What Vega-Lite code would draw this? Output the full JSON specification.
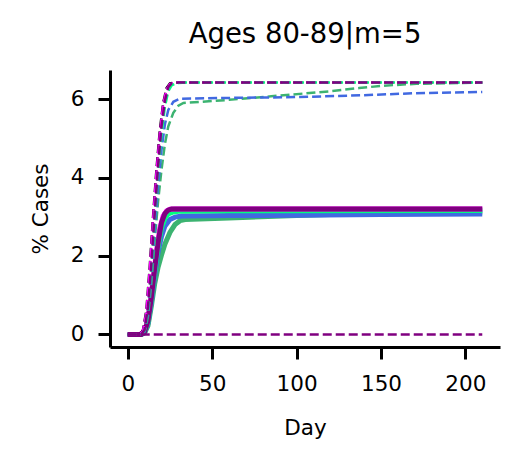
{
  "$schema": "https://vega.github.io/schema/vega-lite/v6.json",
  "autosize": "none",
  "width": 390,
  "height": 277,
  "padding": {"left": 110, "top": 70, "right": 31, "bottom": 125},
  "background": "white",
  "title": {
    "text": "Ages 80-89|m=5",
    "font": "DejaVu Sans",
    "fontSize": 27.5,
    "fontWeight": "normal",
    "color": "black",
    "anchor": "middle",
    "baseline": "alphabetic",
    "offset": 0
  },
  "data": {
    "values": [
      {"g": "g5", "kind": "solid", "day": 0, "v": 0},
      {"g": "g5", "kind": "solid", "day": 8, "v": 0},
      {"g": "g5", "kind": "solid", "day": 10, "v": 0.04},
      {"g": "g5", "kind": "solid", "day": 12, "v": 0.22},
      {"g": "g5", "kind": "solid", "day": 14, "v": 0.72},
      {"g": "g5", "kind": "solid", "day": 16, "v": 1.3},
      {"g": "g5", "kind": "solid", "day": 18, "v": 1.72},
      {"g": "g5", "kind": "solid", "day": 20, "v": 2.02},
      {"g": "g5", "kind": "solid", "day": 22, "v": 2.3},
      {"g": "g5", "kind": "solid", "day": 25, "v": 2.6},
      {"g": "g5", "kind": "solid", "day": 28, "v": 2.8},
      {"g": "g5", "kind": "solid", "day": 31, "v": 2.9},
      {"g": "g5", "kind": "solid", "day": 34, "v": 2.93},
      {"g": "g5", "kind": "solid", "day": 60, "v": 2.97},
      {"g": "g5", "kind": "solid", "day": 100, "v": 3.03},
      {"g": "g5", "kind": "solid", "day": 130, "v": 3.07},
      {"g": "g5", "kind": "solid", "day": 160, "v": 3.1},
      {"g": "g5", "kind": "solid", "day": 210, "v": 3.12},

      {"g": "g4", "kind": "solid", "day": 0, "v": 0},
      {"g": "g4", "kind": "solid", "day": 8, "v": 0},
      {"g": "g4", "kind": "solid", "day": 10, "v": 0.05},
      {"g": "g4", "kind": "solid", "day": 12, "v": 0.28},
      {"g": "g4", "kind": "solid", "day": 14, "v": 0.82},
      {"g": "g4", "kind": "solid", "day": 16, "v": 1.5},
      {"g": "g4", "kind": "solid", "day": 18, "v": 2.1},
      {"g": "g4", "kind": "solid", "day": 20, "v": 2.5},
      {"g": "g4", "kind": "solid", "day": 22, "v": 2.76},
      {"g": "g4", "kind": "solid", "day": 25, "v": 2.93},
      {"g": "g4", "kind": "solid", "day": 28, "v": 2.99},
      {"g": "g4", "kind": "solid", "day": 32, "v": 3.02},
      {"g": "g4", "kind": "solid", "day": 60, "v": 3.03},
      {"g": "g4", "kind": "solid", "day": 100, "v": 3.04},
      {"g": "g4", "kind": "solid", "day": 150, "v": 3.055},
      {"g": "g4", "kind": "solid", "day": 210, "v": 3.07},

      {"g": "g3", "kind": "solid", "day": 0, "v": 0},
      {"g": "g3", "kind": "solid", "day": 8, "v": 0},
      {"g": "g3", "kind": "solid", "day": 10, "v": 0.06},
      {"g": "g3", "kind": "solid", "day": 12, "v": 0.32},
      {"g": "g3", "kind": "solid", "day": 14, "v": 0.9},
      {"g": "g3", "kind": "solid", "day": 16, "v": 1.6},
      {"g": "g3", "kind": "solid", "day": 18, "v": 2.25},
      {"g": "g3", "kind": "solid", "day": 20, "v": 2.72},
      {"g": "g3", "kind": "solid", "day": 22, "v": 2.96},
      {"g": "g3", "kind": "solid", "day": 24, "v": 3.07},
      {"g": "g3", "kind": "solid", "day": 27, "v": 3.12},
      {"g": "g3", "kind": "solid", "day": 30, "v": 3.14},
      {"g": "g3", "kind": "solid", "day": 60, "v": 3.15},
      {"g": "g3", "kind": "solid", "day": 210, "v": 3.16},

      {"g": "g2", "kind": "solid", "day": 0, "v": 0},
      {"g": "g2", "kind": "solid", "day": 7, "v": 0},
      {"g": "g2", "kind": "solid", "day": 9, "v": 0.04},
      {"g": "g2", "kind": "solid", "day": 11, "v": 0.22},
      {"g": "g2", "kind": "solid", "day": 13, "v": 0.7},
      {"g": "g2", "kind": "solid", "day": 15, "v": 1.4},
      {"g": "g2", "kind": "solid", "day": 17, "v": 2.1},
      {"g": "g2", "kind": "solid", "day": 19, "v": 2.7},
      {"g": "g2", "kind": "solid", "day": 21, "v": 3.02},
      {"g": "g2", "kind": "solid", "day": 23, "v": 3.15},
      {"g": "g2", "kind": "solid", "day": 25, "v": 3.19},
      {"g": "g2", "kind": "solid", "day": 28, "v": 3.2},
      {"g": "g2", "kind": "solid", "day": 210, "v": 3.2},

      {"g": "g1", "kind": "solid", "day": 0, "v": 0},
      {"g": "g1", "kind": "solid", "day": 8, "v": 0},
      {"g": "g1", "kind": "solid", "day": 10, "v": 0.07},
      {"g": "g1", "kind": "solid", "day": 12, "v": 0.35},
      {"g": "g1", "kind": "solid", "day": 14, "v": 0.95},
      {"g": "g1", "kind": "solid", "day": 16, "v": 1.7},
      {"g": "g1", "kind": "solid", "day": 18, "v": 2.35},
      {"g": "g1", "kind": "solid", "day": 20, "v": 2.85},
      {"g": "g1", "kind": "solid", "day": 22, "v": 3.08},
      {"g": "g1", "kind": "solid", "day": 24, "v": 3.17},
      {"g": "g1", "kind": "solid", "day": 26, "v": 3.2},
      {"g": "g1", "kind": "solid", "day": 210, "v": 3.2},

      {"g": "g5", "kind": "dashed", "day": 0, "v": 0},
      {"g": "g5", "kind": "dashed", "day": 8, "v": 0},
      {"g": "g5", "kind": "dashed", "day": 10, "v": 0.07},
      {"g": "g5", "kind": "dashed", "day": 12, "v": 0.45},
      {"g": "g5", "kind": "dashed", "day": 14, "v": 1.3},
      {"g": "g5", "kind": "dashed", "day": 16, "v": 2.4},
      {"g": "g5", "kind": "dashed", "day": 18, "v": 3.4},
      {"g": "g5", "kind": "dashed", "day": 20, "v": 4.2},
      {"g": "g5", "kind": "dashed", "day": 22, "v": 4.85},
      {"g": "g5", "kind": "dashed", "day": 24, "v": 5.3},
      {"g": "g5", "kind": "dashed", "day": 27, "v": 5.65},
      {"g": "g5", "kind": "dashed", "day": 30, "v": 5.83},
      {"g": "g5", "kind": "dashed", "day": 33, "v": 5.9},
      {"g": "g5", "kind": "dashed", "day": 60, "v": 5.98},
      {"g": "g5", "kind": "dashed", "day": 85, "v": 6.07},
      {"g": "g5", "kind": "dashed", "day": 120, "v": 6.2},
      {"g": "g5", "kind": "dashed", "day": 137, "v": 6.28},
      {"g": "g5", "kind": "dashed", "day": 151, "v": 6.34},
      {"g": "g5", "kind": "dashed", "day": 171, "v": 6.39},
      {"g": "g5", "kind": "dashed", "day": 210, "v": 6.42},

      {"g": "g4", "kind": "dashed", "day": 0, "v": 0},
      {"g": "g4", "kind": "dashed", "day": 8, "v": 0},
      {"g": "g4", "kind": "dashed", "day": 10, "v": 0.08},
      {"g": "g4", "kind": "dashed", "day": 12, "v": 0.55},
      {"g": "g4", "kind": "dashed", "day": 14, "v": 1.5},
      {"g": "g4", "kind": "dashed", "day": 16, "v": 2.7},
      {"g": "g4", "kind": "dashed", "day": 18, "v": 3.8},
      {"g": "g4", "kind": "dashed", "day": 20, "v": 4.7},
      {"g": "g4", "kind": "dashed", "day": 22, "v": 5.35},
      {"g": "g4", "kind": "dashed", "day": 24, "v": 5.72},
      {"g": "g4", "kind": "dashed", "day": 27, "v": 5.93},
      {"g": "g4", "kind": "dashed", "day": 31, "v": 6.01},
      {"g": "g4", "kind": "dashed", "day": 60, "v": 6.03},
      {"g": "g4", "kind": "dashed", "day": 100, "v": 6.05},
      {"g": "g4", "kind": "dashed", "day": 140, "v": 6.1},
      {"g": "g4", "kind": "dashed", "day": 170, "v": 6.15},
      {"g": "g4", "kind": "dashed", "day": 210, "v": 6.18},

      {"g": "g6", "kind": "dashed", "day": 0, "v": 0},
      {"g": "g6", "kind": "dashed", "day": 7, "v": 0},
      {"g": "g6", "kind": "dashed", "day": 9, "v": 0.1},
      {"g": "g6", "kind": "dashed", "day": 11, "v": 0.6},
      {"g": "g6", "kind": "dashed", "day": 13, "v": 1.7},
      {"g": "g6", "kind": "dashed", "day": 15, "v": 3.0},
      {"g": "g6", "kind": "dashed", "day": 17, "v": 4.2},
      {"g": "g6", "kind": "dashed", "day": 19, "v": 5.2},
      {"g": "g6", "kind": "dashed", "day": 21, "v": 5.9},
      {"g": "g6", "kind": "dashed", "day": 23, "v": 6.28},
      {"g": "g6", "kind": "dashed", "day": 25, "v": 6.4},
      {"g": "g6", "kind": "dashed", "day": 28, "v": 6.42},
      {"g": "g6", "kind": "dashed", "day": 210, "v": 6.42},

      {"g": "g2", "kind": "dashed", "day": 0, "v": 0},
      {"g": "g2", "kind": "dashed", "day": 7, "v": 0},
      {"g": "g2", "kind": "dashed", "day": 9, "v": 0.08},
      {"g": "g2", "kind": "dashed", "day": 11, "v": 0.55},
      {"g": "g2", "kind": "dashed", "day": 13, "v": 1.6},
      {"g": "g2", "kind": "dashed", "day": 15, "v": 2.9},
      {"g": "g2", "kind": "dashed", "day": 17, "v": 4.1},
      {"g": "g2", "kind": "dashed", "day": 19, "v": 5.1},
      {"g": "g2", "kind": "dashed", "day": 21, "v": 5.85},
      {"g": "g2", "kind": "dashed", "day": 23, "v": 6.25},
      {"g": "g2", "kind": "dashed", "day": 25, "v": 6.38},
      {"g": "g2", "kind": "dashed", "day": 28, "v": 6.42},
      {"g": "g2", "kind": "dashed", "day": 210, "v": 6.42},

      {"g": "g3", "kind": "dashed", "day": 0, "v": 0},
      {"g": "g3", "kind": "dashed", "day": 8, "v": 0},
      {"g": "g3", "kind": "dashed", "day": 10, "v": 0.1},
      {"g": "g3", "kind": "dashed", "day": 12, "v": 0.65},
      {"g": "g3", "kind": "dashed", "day": 14, "v": 1.7},
      {"g": "g3", "kind": "dashed", "day": 16, "v": 3.0},
      {"g": "g3", "kind": "dashed", "day": 18, "v": 4.15},
      {"g": "g3", "kind": "dashed", "day": 20, "v": 5.1},
      {"g": "g3", "kind": "dashed", "day": 22, "v": 5.8},
      {"g": "g3", "kind": "dashed", "day": 24, "v": 6.2},
      {"g": "g3", "kind": "dashed", "day": 26, "v": 6.35},
      {"g": "g3", "kind": "dashed", "day": 29, "v": 6.41},
      {"g": "g3", "kind": "dashed", "day": 35, "v": 6.42},
      {"g": "g3", "kind": "dashed", "day": 210, "v": 6.42},

      {"g": "g1", "kind": "dashed", "day": 0, "v": 0},
      {"g": "g1", "kind": "dashed", "day": 8, "v": 0},
      {"g": "g1", "kind": "dashed", "day": 10, "v": 0.12},
      {"g": "g1", "kind": "dashed", "day": 12, "v": 0.7},
      {"g": "g1", "kind": "dashed", "day": 14, "v": 1.8},
      {"g": "g1", "kind": "dashed", "day": 16, "v": 3.1},
      {"g": "g1", "kind": "dashed", "day": 18, "v": 4.3},
      {"g": "g1", "kind": "dashed", "day": 20, "v": 5.3},
      {"g": "g1", "kind": "dashed", "day": 22, "v": 5.95},
      {"g": "g1", "kind": "dashed", "day": 24, "v": 6.3},
      {"g": "g1", "kind": "dashed", "day": 26, "v": 6.4},
      {"g": "g1", "kind": "dashed", "day": 30, "v": 6.42},
      {"g": "g1", "kind": "dashed", "day": 210, "v": 6.42},

      {"g": "g7", "kind": "dashed", "day": 0, "v": 0},
      {"g": "g7", "kind": "dashed", "day": 210, "v": 0}
    ]
  },
  "encoding": {
    "x": {
      "field": "day",
      "type": "quantitative",
      "scale": {"domain": [-10.5, 220.5], "nice": false, "zero": false},
      "axis": {
        "title": "Day",
        "values": [0, 50, 100, 150, 200],
        "titleX": 195,
        "titleY": 87,
        "titleBaseline": "alphabetic"
      }
    },
    "y": {
      "field": "v",
      "type": "quantitative",
      "scale": {"domain": [-0.321, 6.741], "nice": false, "zero": false},
      "axis": {
        "title": "% Cases",
        "values": [0, 2, 4, 6],
        "titleX": -63,
        "titleY": 138.5,
        "titleBaseline": "alphabetic"
      }
    },
    "color": {
      "field": "g",
      "type": "nominal",
      "legend": null,
      "scale": {
        "domain": ["g1", "g2", "g3", "g4", "g5", "g6", "g7"],
        "range": ["#800080", "#FF00FF", "#00FF7F", "#4169E1", "#3CB371", "#000000", "#800080"]
      }
    }
  },
  "layer": [
    {
      "transform": [{"filter": "datum.kind == 'solid'"}],
      "mark": {"type": "line", "strokeWidth": 5, "strokeCap": "butt"}
    },
    {
      "transform": [{"filter": "datum.kind == 'dashed'"}],
      "mark": {"type": "line", "strokeWidth": 2.5, "strokeDash": [9, 4]}
    }
  ],
  "config": {
    "view": {"stroke": null},
    "font": "DejaVu Sans",
    "axis": {
      "grid": false,
      "domainColor": "black",
      "domainWidth": 3,
      "tickColor": "black",
      "tickWidth": 3,
      "tickSize": 12,
      "labelFont": "DejaVu Sans",
      "labelFontSize": 21.5,
      "labelColor": "black",
      "labelPadding": 14,
      "titleFont": "DejaVu Sans",
      "titleFontSize": 21.5,
      "titleFontWeight": "normal",
      "titleColor": "black"
    }
  }
}
